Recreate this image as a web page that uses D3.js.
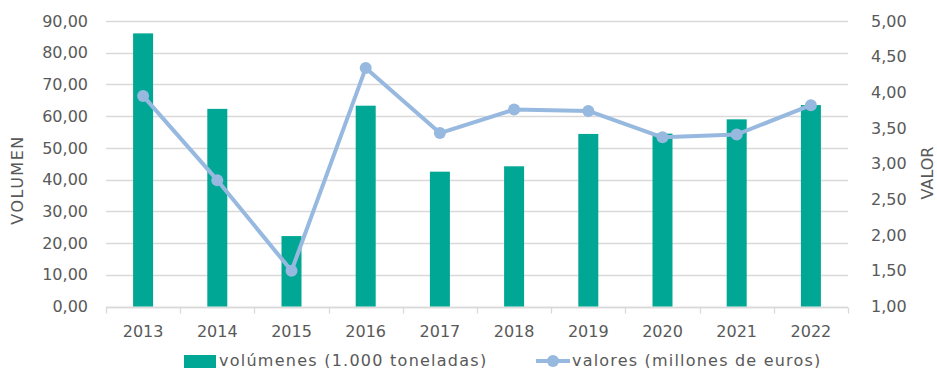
<!DOCTYPE html>
<html>
<head>
<meta charset="utf-8">
<script src="https://cdn.jsdelivr.net/npm/d3@7/dist/d3.min.js"></script>
<style>
  html, body { margin: 0; padding: 0; background: #fff; }
  svg { display: block; }
  text { font-family: "DejaVu Sans", "Noto Sans", sans-serif; fill: #595959; }
</style>
</head>
<body>
<svg id="chart" width="937" height="368"></svg>
<script>
// Annual volumes (thousand tonnes) and values (million euros)
const years = ["2013", "2014", "2015", "2016", "2017", "2018", "2019", "2020", "2021", "2022"];
const volumes = [86.1, 62.3, 22.2, 63.3, 42.5, 44.2, 54.4, 54.5, 59.0, 63.5];
const values = [3.95, 2.77, 1.50, 4.34, 3.43, 3.76, 3.74, 3.37, 3.41, 3.82];
const leftTicks = [0, 10, 20, 30, 40, 50, 60, 70, 80, 90];
const rightTicks = [1, 1.5, 2, 2.5, 3, 3.5, 4, 4.5, 5];
const seriesNames = ["volúmenes (1.000 toneladas)", "valores (millones de euros)"];

const barColor = "#00a795";
const lineColor = "#97b9e0";
const gridColor = "#d9d9d9";

const svg = d3.select("#chart");
const m = { left: 106, right: 848, top: 21, bottom: 306.5 };

const x = d3.scaleBand().domain(years).range([m.left, m.right]);
const yL = d3.scaleLinear().domain([0, 90]).range([m.bottom, m.top]);
const yR = d3.scaleLinear().domain([1, 5]).range([m.bottom, m.top]);

const fmt = v => d3.format(".2f")(v).replace(".", ",");

// Horizontal gridlines follow the left axis
svg.append("g")
  .selectAll("line")
  .data(leftTicks)
  .join("line")
  .attr("x1", m.left).attr("x2", m.right)
  .attr("y1", d => Math.round(yL(d)) + 0.5)
  .attr("y2", d => Math.round(yL(d)) + 0.5)
  .attr("stroke", gridColor).attr("stroke-width", 1.3);

// Left axis labels
const leftAxis = svg.append("g")
  .attr("transform", `translate(${m.left},0)`)
  .call(d3.axisLeft(yL).tickValues(leftTicks).tickFormat(fmt).tickSize(0).tickPadding(18));
leftAxis.select(".domain").remove();
leftAxis.selectAll("text").style("font-size", "16px").attr("fill", "#595959");

// Right axis labels
const rightAxis = svg.append("g")
  .attr("transform", `translate(${m.right},0)`)
  .call(d3.axisRight(yR).tickValues(rightTicks).tickFormat(fmt).tickSize(0).tickPadding(23));
rightAxis.select(".domain").remove();
rightAxis.selectAll("text").style("font-size", "16px").attr("fill", "#595959");

// Category axis with tick marks at band boundaries
const bottom = svg.append("g")
  .attr("transform", `translate(0,${Math.round(m.bottom) + 0.5})`);
bottom.append("line")
  .attr("x1", m.left).attr("x2", m.right)
  .attr("stroke", gridColor).attr("stroke-width", 1.3);
const boundaries = years.map(d => x(d)).concat([m.right]);
bottom.selectAll("line.tick")
  .data(boundaries)
  .join("line")
  .attr("class", "tick")
  .attr("x1", d => Math.round(d) + 0.5).attr("x2", d => Math.round(d) + 0.5)
  .attr("y1", 0).attr("y2", 6)
  .attr("stroke", gridColor).attr("stroke-width", 1.3);
bottom.selectAll("text")
  .data(years)
  .join("text")
  .attr("x", d => x(d) + x.bandwidth() / 2)
  .attr("y", 29)
  .attr("text-anchor", "middle")
  .style("font-size", "16px")
  .text(d => d);

// Volume bars
const barW = 20;
svg.append("g")
  .selectAll("rect")
  .data(volumes)
  .join("rect")
  .attr("x", (d, i) => x(years[i]) + x.bandwidth() / 2 - barW / 2)
  .attr("y", d => yL(d))
  .attr("width", barW)
  .attr("height", d => yL(0) - yL(d))
  .attr("fill", barColor);

// Value line with markers
const line = d3.line()
  .x((d, i) => x(years[i]) + x.bandwidth() / 2)
  .y(d => yR(d));
svg.append("path")
  .datum(values)
  .attr("d", line)
  .attr("fill", "none")
  .attr("stroke", lineColor)
  .attr("stroke-width", 4)
  .attr("stroke-linejoin", "round");
svg.append("g")
  .selectAll("circle")
  .data(values)
  .join("circle")
  .attr("cx", (d, i) => x(years[i]) + x.bandwidth() / 2)
  .attr("cy", d => yR(d))
  .attr("r", 6)
  .attr("fill", lineColor);

// Axis titles
svg.append("text")
  .attr("transform", "translate(23,180) rotate(-90)")
  .attr("text-anchor", "middle")
  .style("font-size", "16px")
  .style("letter-spacing", "1.5px")
  .text("VOLUMEN");
svg.append("text")
  .attr("transform", "translate(933,173) rotate(-90)")
  .attr("text-anchor", "middle")
  .style("font-size", "16px")
  .text("VALOR");

// Legend
const legend = svg.append("g");
legend.append("rect")
  .attr("x", 184).attr("y", 355).attr("width", 32).attr("height", 14)
  .attr("fill", barColor);
legend.append("text")
  .attr("x", 219).attr("y", 365.5)
  .style("font-size", "16px")
  .style("letter-spacing", "1.25px")
  .text(seriesNames[0]);
legend.append("line")
  .attr("x1", 536).attr("x2", 570).attr("y1", 361).attr("y2", 361)
  .attr("stroke", lineColor).attr("stroke-width", 4);
legend.append("circle")
  .attr("cx", 553).attr("cy", 361).attr("r", 6)
  .attr("fill", lineColor);
legend.append("text")
  .attr("x", 572).attr("y", 365.5)
  .style("font-size", "16px")
  .style("letter-spacing", "1.2px")
  .text(seriesNames[1]);
</script>
</body>
</html>
